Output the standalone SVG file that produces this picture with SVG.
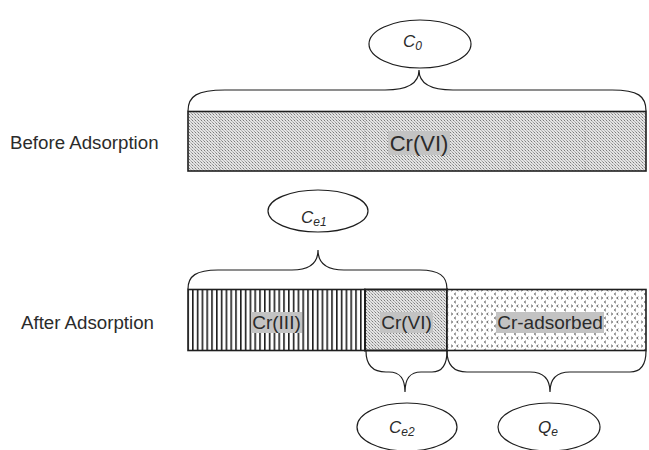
<svg xmlns="http://www.w3.org/2000/svg" width="649" height="450" viewBox="0 0 649 450">
<style>
  .lbl{font-family:"Liberation Sans",Arial,sans-serif;fill:#2b2b2b}
  .side{font-size:18.7px}
  .seg{font-size:19px}
  .big{font-size:22px}
  .hl{fill:#c3c3c3}
  .bar{stroke:#1e1e1e;stroke-width:1.6}
  .ell{fill:#fff;stroke:#1e1e1e;stroke-width:1.2}
  .var{font-family:"Liberation Sans",Arial,sans-serif;font-style:italic;fill:#2b2b2b;font-size:17px}
  .sub{font-size:12px}
  .brace{fill:none;stroke:#1e1e1e;stroke-width:1.2}
  .faint{stroke:#7a7a7a;stroke-width:1;stroke-dasharray:1 1;opacity:.5}
</style>
<defs>
  <pattern id="stip" width="3" height="3" patternUnits="userSpaceOnUse">
    <rect width="3" height="3" fill="#e4e4e4"/>
    <rect x="0" y="0" width="1" height="1" fill="#7c7c7c"/>
    <rect x="1" y="1" width="1" height="1" fill="#b8b8b8"/>
    <rect x="2" y="2" width="1" height="1" fill="#a0a0a0"/>
  </pattern>
  <pattern id="vlines" width="4.8" height="10" patternUnits="userSpaceOnUse">
    <rect width="4.8" height="10" fill="#fff"/>
    <rect x="0" y="0" width="1.6" height="10" fill="#1e1e1e"/>
  </pattern>
  <pattern id="chev" width="10" height="8" patternUnits="userSpaceOnUse">
    <rect width="10" height="8" fill="#fff"/>
    <path d="M1,0.8 L2.8,2 L1,3.2 M8.4,0.8 L6.6,2 L8.4,3.2 M6,4.8 L4.2,6 L6,7.2" fill="none" stroke="#6a6a6a" stroke-width="1"/>
  </pattern>
</defs>

<g id="label-before"><text class="lbl side" x="10" y="149">Before Adsorption</text></g>
<g id="label-after"><text class="lbl side" x="21" y="329">After Adsorption</text></g>

<g id="bar-before">
  <rect class="bar" x="188" y="111.5" width="458" height="59.5" fill="url(#stip)"/>
  <line class="faint" x1="220" y1="113" x2="220" y2="170"/>
  <line class="faint" x1="365" y1="113" x2="365" y2="170"/>
  <line class="faint" x1="510" y1="113" x2="510" y2="170"/>
  <line class="faint" x1="585" y1="113" x2="585" y2="170"/>
  <rect class="hl" x="388" y="131" width="62" height="24"/>
  <text class="lbl big" x="419" y="151" text-anchor="middle">Cr(VI)</text>
</g>

<g id="seg-cr3">
  <rect class="bar" x="188" y="289.5" width="177" height="61" fill="url(#vlines)"/>
  <rect class="hl" x="251" y="312" width="51" height="21"/>
  <text class="lbl seg" x="276.5" y="329" text-anchor="middle">Cr(III)</text>
</g>
<g id="seg-cr6">
  <rect x="365" y="289.5" width="82" height="61" fill="url(#stip)" stroke="#1e1e1e" stroke-width="2"/>
  <rect class="hl" x="380" y="312" width="53" height="21"/>
  <text class="lbl seg" x="406.5" y="329" text-anchor="middle">Cr(VI)</text>
</g>
<g id="seg-ads">
  <rect class="bar" x="447" y="289.5" width="199" height="61" fill="url(#chev)"/>
  <rect class="hl" x="496" y="312" width="108" height="21"/>
  <text class="lbl seg" x="550" y="329" text-anchor="middle">Cr-adsorbed</text>
</g>

<g id="connectors">
  <path class="brace" d="M188,111 C188,96 197,90 225,90 L385,90 C407,90 419,84 419,70 C419,84 431,90 453,90 L612,90 C638,90 646,96 646,111"/>
  <path class="brace" d="M188,289 C188,276 196,270 218,270 L292,270 C309,270 318,264 318,250 C318,264 327,270 344,270 L420,270 C439,270 447,276 447,289"/>
  <path class="brace" d="M366,351 C366,365 372,372 386,372 L389,372 C400,372 405,378 405,392 C405,378 410,372 421,372 L432,372 C442,372 447,365 447,351"/>
  <path class="brace" d="M447,351 C447,365 453,372 467,372 L530,372 C543,372 550,378 550,392 C550,378 557,372 570,372 L630,372 C641,372 646,365 646,351"/>
</g>

<g id="node-c0">
  <ellipse class="ell" cx="420" cy="44" rx="51" ry="24"/>
  <text class="var" x="403" y="47">C<tspan class="sub" dy="2.5">0</tspan></text>
</g>
<g id="node-ce1">
  <ellipse class="ell" cx="318" cy="211" rx="50" ry="21"/>
  <text class="var" x="301" y="223">C<tspan class="sub" dy="2.5">e1</tspan></text>
</g>
<g id="node-ce2">
  <ellipse class="ell" cx="407" cy="427" rx="50" ry="24"/>
  <text class="var" x="389" y="433">C<tspan class="sub" dy="2.5">e2</tspan></text>
</g>
<g id="node-qe">
  <ellipse class="ell" cx="549" cy="427" rx="51" ry="24"/>
  <text class="var" x="538" y="433">Q<tspan class="sub" dy="2.5">e</tspan></text>
</g>
</svg>
